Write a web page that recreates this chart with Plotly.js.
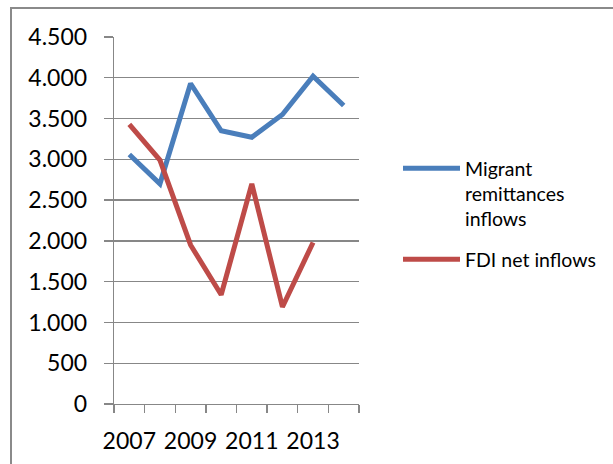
<!DOCTYPE html>
<html>
<head>
<meta charset="utf-8">
<script src="https://cdn.plot.ly/plotly-3.0.1.min.js"></script>
<style>
  html, body { margin: 0; padding: 0; background: #fff; }
  #wrap { position: relative; width: 613px; height: 464px; overflow: hidden; }
  #chart { width: 613px; height: 464px; }
  #frame { position: absolute; left: 10px; top: 7px; width: 620px; height: 470px;
           border-left: 2px solid #8a8a8a; border-top: 2px solid #8a8a8a; pointer-events: none; }
</style>
</head>
<body>
<div id="wrap">
  <div id="chart"></div>
  <div id="frame"></div>
</div>
<script>
const years = [2007, 2008, 2009, 2010, 2011, 2012, 2013, 2014];
const remittances = [3060, 2700, 3930, 3350, 3270, 3550, 4020, 3660];
const fdiYears = [2007, 2008, 2009, 2010, 2011, 2012, 2013];
const fdi = [3430, 2990, 1950, 1340, 2700, 1190, 1980];
const xLabels = [2007, 2009, 2011, 2013];
const yTicks = [0, 500, 1000, 1500, 2000, 2500, 3000, 3500, 4000, 4500];
const seriesNames = ['Migrant<br>remittances<br>inflows', 'FDI net inflows'];

const FONT = 'Lato, "Open Sans", sans-serif';
const GRID = '#878787';

const traces = [
  { x: years, y: remittances, type: 'scatter', mode: 'lines', name: seriesNames[0],
    legendgroup: 'g1',
    line: { color: '#4A7EBB', width: 5, shape: 'linear' } },
  { x: fdiYears, y: fdi, type: 'scatter', mode: 'lines', name: seriesNames[1],
    legendgroup: 'g2',
    line: { color: '#BE4B48', width: 5, shape: 'linear' } }
];

const boundaries = [];
for (let i = 0; i <= years.length; i++) boundaries.push(years[0] - 0.5 + i);

const layout = {
  width: 613, height: 464,
  margin: { l: 114, r: 254, t: 37, b: 60 },
  paper_bgcolor: '#ffffff', plot_bgcolor: '#ffffff',
  separators: ',.',
  font: { family: FONT, color: '#000000', size: 23 },
  showlegend: true,
  legend: {
    xref: 'container', yref: 'container',
    x: 398 / 613, y: 1 - 149 / 464, xanchor: 'left', yanchor: 'top',
    font: { family: FONT, size: 19.5, color: '#000' },
    valign: 'top', traceorder: 'grouped', tracegroupgap: 12, itemwidth: 57,
    bgcolor: 'rgba(0,0,0,0)'
  },
  xaxis: {
    range: [years[0] - 0.5, years[years.length - 1] + 0.5],
    tickmode: 'array', tickvals: xLabels, ticktext: xLabels.map(String),
    ticks: '', showgrid: false, zeroline: false,
    showline: true, linecolor: GRID, linewidth: 1.3,
    ticklabelstandoff: 16,
    tickfont: { family: FONT, size: 23, color: '#000' },
    minor: { tickmode: 'array', tickvals: boundaries, ticks: 'outside', ticklen: 8,
             tickcolor: GRID, tickwidth: 1.3, showgrid: false },
    fixedrange: true
  },
  yaxis: {
    range: [0, 4500], tickmode: 'array', tickvals: yTicks, tickformat: ',d',
    ticks: 'outside', ticklen: 9, tickcolor: GRID, tickwidth: 1.3,
    showgrid: true, gridcolor: GRID, gridwidth: 1.3, zeroline: false,
    showline: true, linecolor: GRID, linewidth: 1.3,
    ticklabelstandoff: 12,
    tickfont: { family: FONT, size: 23, color: '#000' },
    fixedrange: true
  }
};

Plotly.newPlot('chart', traces, layout, { displayModeBar: false, staticPlot: true });
</script>
</body>
</html>
